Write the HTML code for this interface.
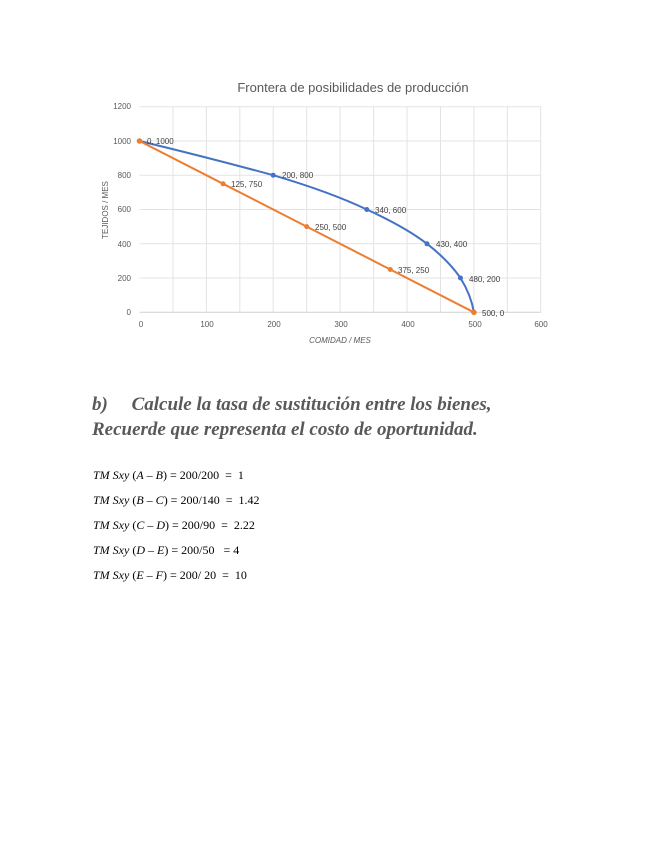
<!DOCTYPE html>
<html><head><meta charset="utf-8"><style>
body{margin:0;background:#fff;width:655px;height:848px;position:relative;overflow:hidden}
.h{position:absolute;left:92px;font-family:"Liberation Serif",serif;font-style:italic;font-weight:bold;color:#595959;font-size:19px;white-space:nowrap}
.t{position:absolute;left:93px;font-family:"Liberation Serif",serif;font-size:12px;color:#000;white-space:nowrap}
.t i{font-style:italic}
</style></head><body>
<svg width="655" height="360" style="position:absolute;left:0;top:0" font-family="Liberation Sans, sans-serif">
<text x="353" y="92" text-anchor="middle" font-size="13" fill="#595959">Frontera de posibilidades de producción</text>
<g stroke="#e3e3e3" stroke-width="1">
<line x1="139.5" x2="540.7" y1="106.7" y2="106.7"/><line x1="139.5" x2="540.7" y1="141" y2="141"/><line x1="139.5" x2="540.7" y1="175.2" y2="175.2"/><line x1="139.5" x2="540.7" y1="209.5" y2="209.5"/><line x1="139.5" x2="540.7" y1="243.8" y2="243.8"/><line x1="139.5" x2="540.7" y1="278" y2="278"/>
<line x1="173" x2="173" y1="106.7" y2="312.3"/><line x1="206.4" x2="206.4" y1="106.7" y2="312.3"/><line x1="239.8" x2="239.8" y1="106.7" y2="312.3"/><line x1="273.2" x2="273.2" y1="106.7" y2="312.3"/><line x1="306.7" x2="306.7" y1="106.7" y2="312.3"/><line x1="340.1" x2="340.1" y1="106.7" y2="312.3"/><line x1="373.6" x2="373.6" y1="106.7" y2="312.3"/><line x1="407" x2="407" y1="106.7" y2="312.3"/><line x1="440.5" x2="440.5" y1="106.7" y2="312.3"/><line x1="473.9" x2="473.9" y1="106.7" y2="312.3"/><line x1="507.3" x2="507.3" y1="106.7" y2="312.3"/><line x1="540.7" x2="540.7" y1="106.7" y2="312.3"/>
</g>
<line x1="139.5" x2="540.7" y1="312.3" y2="312.3" stroke="#d0d0d0"/>
<g font-size="8" fill="#595959" text-anchor="end">
<text x="131" y="109">1200</text><text x="131" y="144">1000</text><text x="131" y="178">800</text><text x="131" y="212">600</text><text x="131" y="247">400</text><text x="131" y="281">200</text><text x="131" y="315">0</text>
</g>
<g font-size="8" fill="#595959" text-anchor="middle">
<text x="141" y="327">0</text><text x="207" y="327">100</text><text x="274" y="327">200</text><text x="341" y="327">300</text><text x="408" y="327">400</text><text x="475" y="327">500</text><text x="541" y="327">600</text>
</g>
<text x="340" y="343" font-size="8" font-style="italic" fill="#595959" text-anchor="middle">COMIDAD / MES</text>
<text transform="translate(108,210) rotate(-90)" font-size="8" fill="#595959" text-anchor="middle">TEJIDOS / MES</text>
<path d="M139.5,141 Q210,158 273.2,175.2 Q330,192 366.8,209.5 Q405,227 427,243.8 Q448,260 460.5,278 Q471,295 473.9,312.3" fill="none" stroke="#4472c4" stroke-width="2"/>
<polyline points="139.5,141 223.1,183.8 306.7,226.6 390.3,269.5 473.9,312.3" fill="none" stroke="#ed7d31" stroke-width="2"/>
<g fill="#4472c4"><circle cx="273.2" cy="175.2" r="2.5"/><circle cx="366.8" cy="209.5" r="2.5"/><circle cx="427" cy="243.8" r="2.5"/><circle cx="460.5" cy="278" r="2.5"/></g>
<g fill="#ed7d31"><circle cx="139.5" cy="141" r="2.8"/><circle cx="223.1" cy="183.8" r="2.5"/><circle cx="306.7" cy="226.6" r="2.5"/><circle cx="390.3" cy="269.5" r="2.5"/><circle cx="473.9" cy="312.3" r="2.8"/></g>
<g font-size="8" fill="#404040">
<text x="147" y="144">0, 1000</text><text x="282" y="178">200, 800</text><text x="375" y="213">340, 600</text><text x="436" y="247">430, 400</text><text x="469" y="282">480, 200</text><text x="482" y="316">500, 0</text>
<text x="231" y="187">125, 750</text><text x="315" y="230">250, 500</text><text x="398" y="273">375, 250</text>
</g>
</svg>
<div class="h" style="top:394px">b)&nbsp;&nbsp;&nbsp;&nbsp; Calcule la tasa de sustitución entre los bienes,</div>
<div class="h" style="top:419px">Recuerde que representa el costo de oportunidad.</div>
<div class="t" style="top:468px"><i>TM Sxy</i> (<i>A</i> – <i>B</i>) = 200/200&nbsp; = &nbsp;1</div>
<div class="t" style="top:493px"><i>TM Sxy</i> (<i>B</i> – <i>C</i>) = 200/140&nbsp; = &nbsp;1.42</div>
<div class="t" style="top:518px"><i>TM Sxy</i> (<i>C</i> – <i>D</i>) = 200/90&nbsp; = &nbsp;2.22</div>
<div class="t" style="top:543px"><i>TM Sxy</i> (<i>D</i> – <i>E</i>) = 200/50&nbsp;&nbsp; = 4</div>
<div class="t" style="top:568px"><i>TM Sxy</i> (<i>E</i> – <i>F</i>) = 200/ 20&nbsp; = &nbsp;10</div>
</body></html>
